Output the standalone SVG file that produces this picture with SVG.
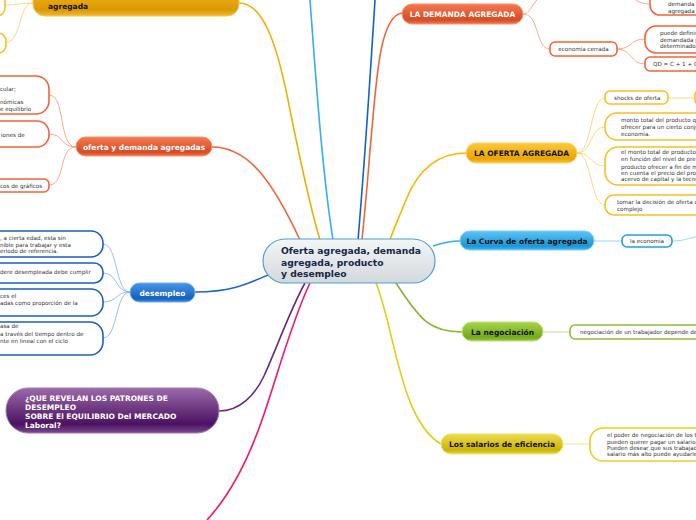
<svg xmlns="http://www.w3.org/2000/svg" width="696" height="520" viewBox="0 0 696 520">
<defs>
<linearGradient id="gC" x1="0" y1="0" x2="0" y2="1"><stop offset="0" stop-color="#f4f6f7"/><stop offset="1" stop-color="#d3d8db"/></linearGradient>
<linearGradient id="gY" x1="0" y1="0" x2="0" y2="1"><stop offset="0" stop-color="#f5c02c"/><stop offset="0.8" stop-color="#dc9800"/><stop offset="1" stop-color="#f0b830"/></linearGradient>
<linearGradient id="gO" x1="0" y1="0" x2="0" y2="1"><stop offset="0" stop-color="#f47a52"/><stop offset="0.8" stop-color="#d84a22"/><stop offset="1" stop-color="#f07850"/></linearGradient>
<linearGradient id="gB" x1="0" y1="0" x2="0" y2="1"><stop offset="0" stop-color="#4a96e8"/><stop offset="0.8" stop-color="#1460c4"/><stop offset="1" stop-color="#3a86dc"/></linearGradient>
<linearGradient id="gP" x1="0" y1="0" x2="0" y2="1"><stop offset="0" stop-color="#9c6aaa"/><stop offset="0.8" stop-color="#4c1262"/><stop offset="1" stop-color="#7a4a90"/></linearGradient>
<linearGradient id="gOA" x1="0" y1="0" x2="0" y2="1"><stop offset="0" stop-color="#fcc840"/><stop offset="0.8" stop-color="#eaa400"/><stop offset="1" stop-color="#f8c440"/></linearGradient>
<linearGradient id="gCy" x1="0" y1="0" x2="0" y2="1"><stop offset="0" stop-color="#5cc4f4"/><stop offset="0.8" stop-color="#1a96d8"/><stop offset="1" stop-color="#48b8ec"/></linearGradient>
<linearGradient id="gG" x1="0" y1="0" x2="0" y2="1"><stop offset="0" stop-color="#a8d44c"/><stop offset="0.8" stop-color="#74aa1c"/><stop offset="1" stop-color="#9cc840"/></linearGradient>
<linearGradient id="gS" x1="0" y1="0" x2="0" y2="1"><stop offset="0" stop-color="#eedc4c"/><stop offset="0.8" stop-color="#ccb404"/><stop offset="1" stop-color="#e8d444"/></linearGradient>
<style>
text{font-family:"DejaVu Sans","Verdana",sans-serif}
.m{font-weight:bold;font-size:7.5px}
.w{fill:#fff}
.k{fill:#111}
.s{font-size:5.6px;fill:#333}
.line{fill:none;stroke-width:1.6}
.thin{fill:none;stroke-width:0.9}
.box{fill:#fff;stroke-width:1.6}
</style>
</defs>

<g id="connectors">
<!-- main branches -->
<path class="line" stroke="#f0b000" d="M239,3 C262,3 276,40 288,100 C298,150 308,200 320,240"/>
<path class="line" stroke="#f26438" d="M212,147 C248,147 272,180 300,240"/>
<path class="line" stroke="#30b0f0" d="M310,0 C316,80 322,170 333,240"/>
<path class="line" stroke="#1060d0" d="M375,0 C370,80 364,170 358,240"/>
<path class="line" stroke="#f26438" d="M402,13 C378,16 376,90 370,150 C367,190 364,220 362,240"/>
<path class="line" stroke="#f8b800" d="M466,153 C430,153 414,180 406,200 C400,215 394,228 390,240"/>
<path class="line" stroke="#30b0f0" d="M433,246 C445,242 450,241 460,241"/>
<path class="line" stroke="#1a64d0" d="M195,292 C230,292 245,285 268,275"/>
<path class="line" stroke="#84b82c" d="M396,283 C420,320 430,332 462,332"/>
<path class="line" stroke="#e6cc10" d="M376,283 C395,330 400,420 441,444"/>
<path class="line" stroke="#6a2a80" d="M219,411 C240,411 255,395 264,376 C278,345 290,310 305,283"/>
<path class="line" stroke="#f4156e" d="M310,283 C292,320 276,380 262,420 C248,460 230,495 207,520"/>
<!-- sub branches -->
<path class="thin" stroke="#fcd27a" d="M33,3 C20,3 18,5 6,5"/>
<path class="thin" stroke="#fcd27a" d="M33,3 C18,3 22,42 6,42"/>
<path class="thin" stroke="#f9a080" d="M76,147 C58,147 66,95 49,95"/>
<path class="thin" stroke="#f9a080" d="M76,147 C60,147 64,134 49,134"/>
<path class="thin" stroke="#f9a080" d="M76,147 C58,147 66,185 49,185"/>
<path class="thin" stroke="#f9a080" d="M523,14 C530,14 532,4 537,0"/>
<path class="thin" stroke="#f9a080" d="M523,14 C540,14 535,49 550,49"/>
<path class="thin" stroke="#f9a080" d="M617,49 C632,49 630,39 645,39"/>
<path class="thin" stroke="#f9a080" d="M617,49 C632,49 630,64 645,64"/>
<path class="thin" stroke="#f9a080" d="M636,0 C640,3 644,4 650,4"/>
<path class="thin" stroke="#fcd27a" d="M577,153 C592,153 590,98 605,98"/>
<path class="thin" stroke="#fcd27a" d="M577,153 C592,153 590,127 605,127"/>
<path class="thin" stroke="#fcd27a" d="M577,153 C592,153 590,166 605,166"/>
<path class="thin" stroke="#fcd27a" d="M577,153 C592,153 590,205 605,205"/>
<path class="thin" stroke="#fcd27a" d="M668,98 L696,98"/>
<path class="thin" stroke="#8ed0f4" d="M594,241 L622,241"/>
<path class="thin" stroke="#8ed0f4" d="M672,241 C685,241 688,238 696,237"/>
<path class="thin" stroke="#b8dc80" d="M543,332 L570,332"/>
<path class="thin" stroke="#f0e47a" d="M563,444 L590,444"/>
<path class="thin" stroke="#8ab8f0" d="M130,292 C115,292 118,244 103,244"/>
<path class="thin" stroke="#8ab8f0" d="M130,292 C115,292 118,273 103,273"/>
<path class="thin" stroke="#8ab8f0" d="M130,292 C115,292 118,302 103,302"/>
<path class="thin" stroke="#8ab8f0" d="M130,292 C115,292 118,338 103,338"/>
</g>

<g id="central">
<rect x="263" y="239" width="172" height="44" rx="22" fill="url(#gC)" stroke="#4aa0dc" stroke-width="1.2"/>
<text x="281" y="254" font-size="9.2" font-weight="bold" fill="#16284a">Oferta agregada, demanda</text>
<text x="281" y="266" font-size="9.2" font-weight="bold" fill="#16284a">agregada, producto</text>
<text x="281" y="277" font-size="9.2" font-weight="bold" fill="#16284a">y desempleo</text>
</g>

<g id="n-topleft">
<rect x="33" y="-16" width="206" height="32" rx="12" fill="url(#gY)" stroke="#f8c850" stroke-width="1"/>
<text x="48" y="9" class="m k">agregada</text>
</g>
<g id="n-tl1"><rect x="-20" y="-8" width="25" height="24" rx="8" class="box" stroke="#f8c020"/></g>
<g id="n-tl2"><rect x="-20" y="33" width="26" height="20" rx="8" class="box" stroke="#f8c020"/></g>

<g id="n-oyd">
<rect x="76" y="137" width="136" height="19" rx="9.5" fill="url(#gO)" stroke="#f89070" stroke-width="1"/>
<text x="144" y="149.5" class="m w" text-anchor="middle">oferta y demanda agregadas</text>
</g>
<g id="n-oyd1">
<rect x="-20" y="76" width="69" height="38" rx="13" class="box" stroke="#f26438"/>
<text x="0" y="91" class="s">cular;</text>
<text x="0" y="104" class="s">nómicas</text>
<text x="0" y="111" class="s">e equilibrio</text>
</g>
<g id="n-oyd2">
<rect x="-20" y="121" width="69" height="26" rx="12" class="box" stroke="#f26438"/>
<text x="1" y="137" class="s">iones de</text>
</g>
<g id="n-oyd3">
<rect x="-20" y="179" width="69" height="13" rx="5" class="box" stroke="#f26438"/>
<text x="0" y="188" class="s">cos de gráficos</text>
</g>

<g id="n-desempleo">
<rect x="130" y="283" width="65" height="19" rx="9.5" fill="url(#gB)" stroke="#70b0f0" stroke-width="1"/>
<text x="162.5" y="295.5" class="m w" text-anchor="middle">desempleo</text>
</g>
<g id="n-d1">
<rect x="-20" y="231" width="123" height="26" rx="12" class="box" stroke="#1a5fc8"/>
<text x="0" y="240" class="s">, a cierta edad, esta sin</text>
<text x="0" y="247" class="s">nible para trabajar y esta</text>
<text x="0" y="253" class="s">eriodo de referencia.</text>
</g>
<g id="n-d2">
<rect x="-20" y="263" width="123" height="20" rx="9" class="box" stroke="#1a5fc8"/>
<text x="0" y="274" class="s">dere desempleada debe cumplir</text>
</g>
<g id="n-d3">
<rect x="-20" y="289" width="123" height="27" rx="12" class="box" stroke="#1a5fc8"/>
<text x="0" y="298" class="s">ces el</text>
<text x="0" y="305" class="s">adas como proporción de la</text>
</g>
<g id="n-d4">
<rect x="-20" y="322" width="123" height="33" rx="13" class="box" stroke="#1a5fc8"/>
<text x="0" y="328" class="s">asa de</text>
<text x="0" y="336" class="s">a través del tiempo dentro de</text>
<text x="0" y="343" class="s">nte en lineal con el ciclo</text>
</g>

<g id="n-patrones">
<rect x="6" y="388" width="213" height="45" rx="22" fill="url(#gP)" stroke="#a07ab0" stroke-width="1"/>
<text x="25" y="401" class="m w">¿QUE REVELAN LOS PATRONES DE</text>
<text x="25" y="410" class="m w">DESEMPLEO</text>
<text x="25" y="419" class="m w">SOBRE El EQUILIBRIO Del MERCADO</text>
<text x="25" y="428" class="m w">Laboral?</text>
</g>

<g id="n-demanda">
<rect x="402" y="4" width="121" height="20" rx="10" fill="url(#gO)" stroke="#f89070" stroke-width="1"/>
<text x="462.5" y="17" class="m w" text-anchor="middle">LA DEMANDA AGREGADA</text>
</g>
<g id="n-dem-top">
<rect x="650" y="-14" width="60" height="29" rx="10" class="box" stroke="#f26438"/>
<text x="668" y="6" class="s">demanda</text>
<text x="668" y="13" class="s">agregada</text>
</g>
<g id="n-econ">
<rect x="550" y="42" width="67" height="14" rx="5" class="box" stroke="#f26438"/>
<text x="583.5" y="51" class="s" text-anchor="middle">economía cerrada</text>
</g>
<g id="n-puede">
<rect x="645" y="26" width="70" height="27" rx="11" class="box" stroke="#f26438"/>
<text x="660" y="35" class="s">puede definir</text>
<text x="660" y="41.5" class="s">demandada p</text>
<text x="660" y="48" class="s">determinado</text>
</g>
<g id="n-qd">
<rect x="645" y="57" width="70" height="14" rx="5" class="box" stroke="#f26438"/>
<text x="653" y="66" class="s">QD = C + 1 + G</text>
</g>

<g id="n-oferta">
<rect x="466" y="143" width="111" height="20" rx="10" fill="url(#gOA)" stroke="#fcd060" stroke-width="1"/>
<text x="521.5" y="156" class="m k" text-anchor="middle">LA OFERTA AGREGADA</text>
</g>
<g id="n-shocks">
<rect x="605" y="91" width="63" height="13" rx="5" class="box" stroke="#f8c020"/>
<text x="614" y="100" class="s">shocks de oferta</text>
</g>
<g id="n-shocks2"><rect x="695" y="89" width="20" height="17" rx="6" class="box" stroke="#f8c020"/></g>
<g id="n-o1">
<rect x="605" y="113" width="110" height="27" rx="12" class="box" stroke="#f8c020"/>
<text x="621" y="122" class="s">monto total del producto qu</text>
<text x="621" y="129" class="s">ofrecer para un cierto conju</text>
<text x="621" y="136" class="s">economía.</text>
</g>
<g id="n-o2">
<rect x="605" y="147" width="110" height="38" rx="13" class="box" stroke="#f8c020"/>
<text x="621" y="154" class="s">el monto total de producto</text>
<text x="621" y="161" class="s">en función del nivel de pre</text>
<text x="621" y="169" class="s">producto ofrecer a fin de m</text>
<text x="621" y="175" class="s">en cuenta el precio del pro</text>
<text x="621" y="181" class="s">acervo de capital y la tecno</text>
</g>
<g id="n-o3">
<rect x="605" y="195" width="110" height="20" rx="9" class="box" stroke="#f8c020"/>
<text x="617" y="204" class="s">tomar la decisión de oferta c</text>
<text x="617" y="211" class="s">complejo</text>
</g>

<g id="n-curva">
<rect x="460" y="231" width="134" height="19" rx="9.5" fill="url(#gCy)" stroke="#80d0f8" stroke-width="1"/>
<text x="527" y="243.5" class="m k" text-anchor="middle">La Curva de oferta agregada</text>
</g>
<g id="n-laeco">
<rect x="622" y="235" width="50" height="12" rx="5" class="box" stroke="#20a0e0"/>
<text x="647" y="243" class="s" text-anchor="middle">la economía</text>
</g>

<g id="n-negoc">
<rect x="462" y="322" width="81" height="19" rx="9.5" fill="url(#gG)" stroke="#c0e080" stroke-width="1"/>
<text x="502.5" y="334.5" class="m k" text-anchor="middle">La negociación</text>
</g>
<g id="n-neg1">
<rect x="570" y="325" width="140" height="14" rx="5" class="box" stroke="#90c030"/>
<text x="580" y="334" class="s">negociación de un trabajador depende de</text>
</g>

<g id="n-salarios">
<rect x="441" y="434" width="122" height="20" rx="10" fill="url(#gS)" stroke="#f0e070" stroke-width="1"/>
<text x="502" y="447" class="m k" text-anchor="middle">Los salarios de eficiencia</text>
</g>
<g id="n-sal1">
<rect x="590" y="428" width="125" height="33" rx="13" class="box" stroke="#e8d020"/>
<text x="607" y="437" class="s">el poder de negociación de los t</text>
<text x="607" y="444" class="s">pueden querer pagar un salario</text>
<text x="607" y="450" class="s">Pueden desear que sus trabajad</text>
<text x="607" y="456" class="s">salario más alto puede ayudarle</text>
</g>
</svg>
